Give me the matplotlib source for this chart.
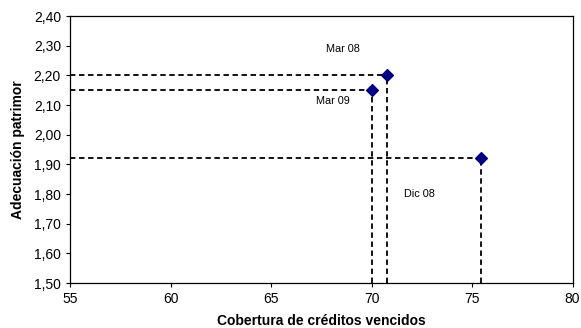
import matplotlib
matplotlib.use("Agg")
import matplotlib.pyplot as plt
from matplotlib.ticker import FuncFormatter

# data
labels = ["Mar 08", "Dic 08", "Mar 09"]
cobertura = [70.78, 75.45, 70.0]
adecuacion = [2.20, 1.92, 2.15]
label_x = [68.6, 72.4, 68.1]
label_y = [2.29, 1.80, 2.113]

x_ticks = [55, 60, 65, 70, 75, 80]
y_ticks = [1.5, 1.6, 1.7, 1.8, 1.9, 2.0, 2.1, 2.2, 2.3, 2.4]

plt.rcParams["font.family"] = ["Liberation Sans", "DejaVu Sans"]

fig = plt.figure(figsize=(5.81, 3.28), dpi=100)
ax = fig.add_axes([0.1205, 0.137, 0.865, 0.814])

xmin, xmax = x_ticks[0], x_ticks[-1]
ymin, ymax = y_ticks[0], y_ticks[-1]

# dashed guide lines from each point to the axes
for x, y in zip(cobertura, adecuacion):
    ax.plot([xmin, x], [y, y], color="black", linestyle=(0, (3, 2)), linewidth=1.3, zorder=2)
    ax.plot([x, x], [ymin, y], color="black", linestyle=(0, (3, 2)), linewidth=1.3, zorder=2)

ax.scatter(cobertura, adecuacion, marker="D", s=36, color="#000080", zorder=3)

for name, tx, ty in zip(labels, label_x, label_y):
    ax.text(tx, ty, name, fontsize=7.8, ha="center", va="center")

ax.set_xlim(xmin, xmax)
ax.set_ylim(ymin, ymax)
ax.set_xticks(x_ticks)
ax.set_yticks(y_ticks)
ax.yaxis.set_major_formatter(FuncFormatter(lambda v, _: f"{v:.2f}".replace(".", ",")))
ax.tick_params(labelsize=10, length=3, width=0.8, direction="out")

ax.set_xlabel("Cobertura de créditos vencidos", fontsize=10, fontweight="bold", labelpad=6)
ax.set_ylabel("Adecuación patrimor", fontsize=10, fontweight="bold", labelpad=6)

for s in ax.spines.values():
    s.set_linewidth(0.9)
    s.set_color("black")

fig.savefig("out.png", dpi=100)
